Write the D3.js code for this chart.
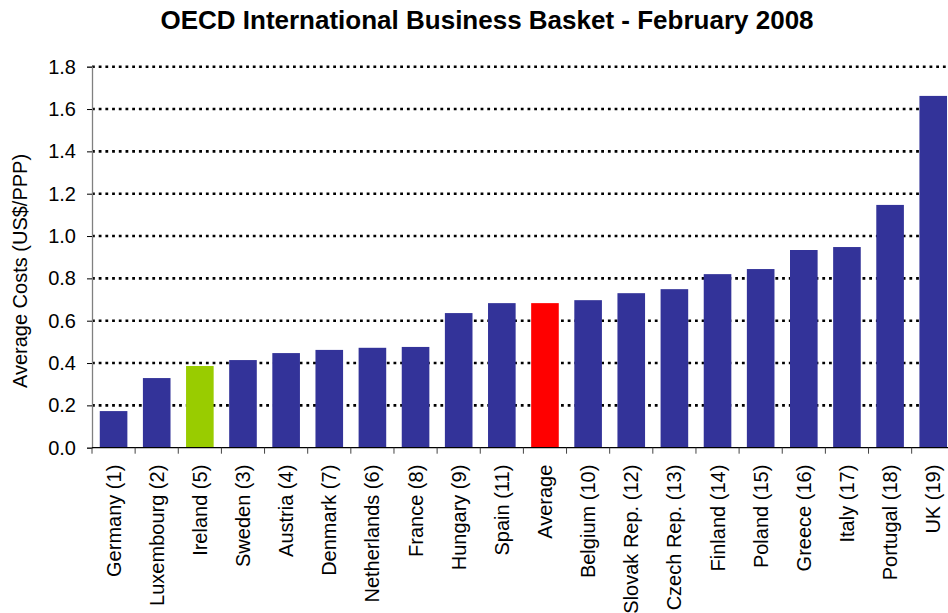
<!DOCTYPE html>
<html>
<head>
<meta charset="utf-8">
<script src="https://d3js.org/d3.v7.min.js"></script>
<style>
  body { margin: 0; background: #fff; }
  text { font-family: "Liberation Sans", Arial, sans-serif; }
</style>
</head>
<body>
<div id="chart"></div>
<script>

var countries = ["Germany (1)", "Luxembourg (2)", "Ireland (5)", "Sweden (3)", "Austria (4)",
  "Denmark (7)", "Netherlands (6)", "France (8)", "Hungary (9)", "Spain (11)", "Average",
  "Belgium (10)", "Slovak Rep. (12)", "Czech Rep. (13)", "Finland (14)", "Poland (15)",
  "Greece (16)", "Italy (17)", "Portugal (18)", "UK (19)"];
var costs = [0.173, 0.329, 0.386, 0.414, 0.447, 0.462, 0.472, 0.476, 0.636, 0.683, 0.683,
  0.697, 0.730, 0.749, 0.820, 0.844, 0.934, 0.948, 1.147, 1.662];
var yTicks = [0, 0.2, 0.4, 0.6, 0.8, 1.0, 1.2, 1.4, 1.6, 1.8];

var W = 948, H = 613;
var plotLeft = 92, plotTop = 66.7, plotBottom = 447.7;
var step = 43.14;

var svg = d3.select("#chart").append("svg")
    .attr("width", W)
    .attr("height", H);

var x = d3.scaleBand()
    .domain(countries)
    .range([plotLeft, plotLeft + step * countries.length])
    .paddingInner(0.36)
    .paddingOuter(0.18);

var y = d3.scaleLinear()
    .domain([0, 1.8])
    .range([plotBottom, plotTop]);

// title
svg.append("text")
    .attr("x", 487)
    .attr("y", 29)
    .attr("text-anchor", "middle")
    .style("font-size", "26px")
    .style("font-weight", "bold")
    .text("OECD International Business Basket - February 2008");

// gridlines
svg.append("g")
  .selectAll("line")
  .data(yTicks.filter(function(d) { return d > 0; }))
  .enter().append("line")
    .attr("x1", plotLeft)
    .attr("x2", W)
    .attr("y1", function(d) { return y(d); })
    .attr("y2", function(d) { return y(d); })
    .attr("stroke", "#000")
    .attr("stroke-width", 2.6)
    .attr("stroke-dasharray", "2.8,3.9");

// bars
svg.append("g")
  .selectAll("rect")
  .data(costs)
  .enter().append("rect")
    .attr("x", function(d, i) { return x(countries[i]); })
    .attr("y", function(d) { return y(d); })
    .attr("width", x.bandwidth())
    .attr("height", function(d) { return plotBottom - y(d); })
    .attr("fill", function(d, i) {
      if (countries[i] == "Ireland (5)") return "#99cc00";
      if (countries[i] == "Average") return "#ff0000";
      return "#333399";
    });

// y axis
var yAxis = svg.append("g")
    .attr("transform", "translate(" + plotLeft + ",0)")
    .call(d3.axisLeft(y).tickValues(yTicks).tickFormat(d3.format(".1f")).tickSize(5).tickPadding(11));
yAxis.select(".domain").attr("stroke", "#808080").attr("stroke-width", 1.3);
yAxis.selectAll(".tick line").attr("stroke", "#000");
yAxis.selectAll(".tick text")
    .style("font-size", "20px")
    .attr("fill", "#000")
    .style("font-family", "'Liberation Sans', Arial, sans-serif");

// x axis, ticks at category boundaries
var xAxis = svg.append("g");
xAxis.append("line")
    .attr("x1", plotLeft).attr("x2", W)
    .attr("y1", plotBottom).attr("y2", plotBottom)
    .attr("stroke", "#000").attr("stroke-width", 1.3);
xAxis.selectAll(".bnd")
  .data(countries)
  .enter().append("line")
    .attr("class", "bnd")
    .attr("x1", function(d) { return x(d) - x.step() * x.paddingOuter(); })
    .attr("x2", function(d) { return x(d) - x.step() * x.paddingOuter(); })
    .attr("y1", plotBottom)
    .attr("y2", plotBottom + 6)
    .attr("stroke", "#444");

xAxis.selectAll(".lbl")
  .data(countries)
  .enter().append("text")
    .attr("class", "lbl")
    .attr("transform", function(d) {
      return "translate(" + (x(d) + x.bandwidth() / 2) + "," + (plotBottom + 17) + ") rotate(-90)";
    })
    .attr("dy", "0.35em")
    .attr("text-anchor", "end")
    .style("font-size", "20px")
    .text(function(d) { return d; });

// y label
svg.append("text")
    .attr("transform", "translate(20,271) rotate(-90)")
    .attr("dy", "0.35em")
    .attr("text-anchor", "middle")
    .style("font-size", "20px")
    .text("Average Costs (US$/PPP)");

</script>
</body>
</html>
